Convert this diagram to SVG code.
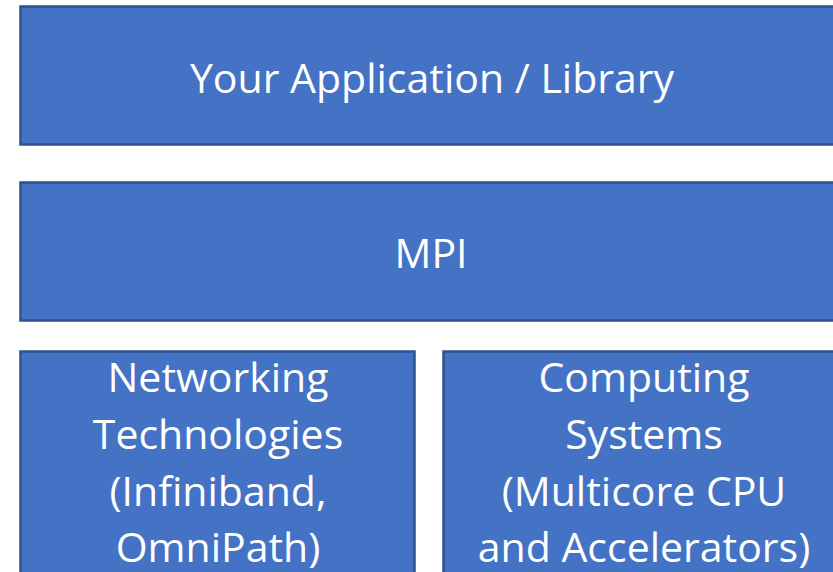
<svg xmlns="http://www.w3.org/2000/svg" width="833" height="572" viewBox="0 0 833 572">
<style>
.box{fill:#4472C4;stroke:#2F528F;stroke-width:2.5}
.t{font-family:"Open Sans","Liberation Sans",sans-serif;font-size:41px;fill:#FFFFFF;text-anchor:middle}
</style>
<rect width="833" height="572" fill="#FFFFFF"/>
<g id="app">
<rect class="box" x="20.5" y="6.5" width="830" height="138"/>
<text class="t" x="432" y="93">Your Application / Library</text>
</g>
<g id="mpi">
<rect class="box" x="20.5" y="182.5" width="830" height="138"/>
<text class="t" x="431" y="268">MPI</text>
</g>
<g id="net">
<rect class="box" x="20.5" y="351.5" width="394" height="240"/>
<text class="t" x="218" y="392">Networking</text>
<text class="t" x="218" y="449">Technologies</text>
<text class="t" x="218" y="506">(Infiniband,</text>
<text class="t" x="218" y="562">OmniPath)</text>
</g>
<g id="comp">
<rect class="box" x="443.5" y="351.5" width="410" height="240"/>
<text class="t" x="644" y="392">Computing</text>
<text class="t" x="644" y="449">Systems</text>
<text class="t" x="644" y="506">(Multicore CPU</text>
<text class="t" x="644" y="562">and Accelerators)</text>
</g>
<g id="connectors"></g>
</svg>
